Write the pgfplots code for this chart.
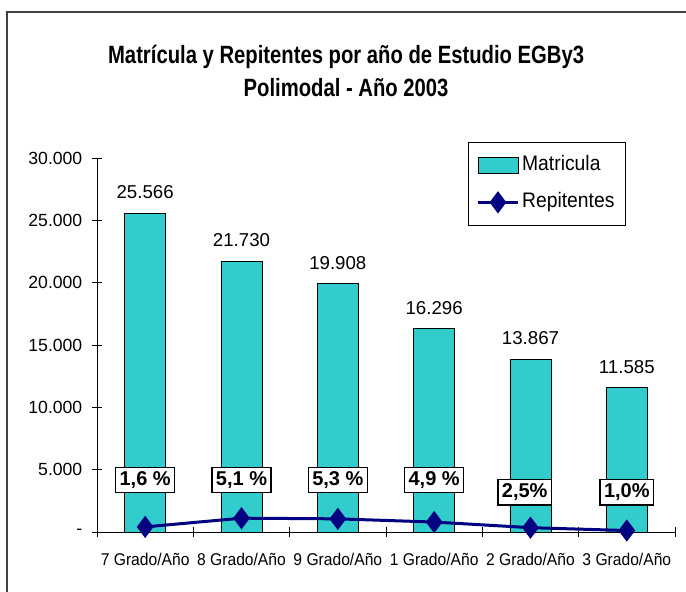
\documentclass[border=0pt]{standalone}
\usepackage{fontspec}
\setmainfont{Liberation Sans}
\newfontfamily\condfont{Liberation Sans}[FakeStretch=0.92]
\newfontfamily\titlefont{Liberation Sans}[FakeStretch=0.81]
\usepackage{pgfplots}
\pgfplotsset{compat=1.18}
\definecolor{barcol}{HTML}{33CCCC}
\definecolor{linecol}{HTML}{000080}
\begin{document}
\begin{tikzpicture}
\begin{axis}[
  at={(0,0)}, anchor=south west,
  scale only axis, width=433.5pt, height=280.5pt,
  xmin=-0.5, xmax=5.5, ymin=0, ymax=30000,
  scaled y ticks=false,
  axis x line=bottom, axis y line=left,
  axis line style={-, line width=0.6pt, black},
  xtick={-0.5,0.5,1.5,2.5,3.5,4.5,5.5},
  x tick label as interval,
  xticklabels={7 Grado/Año, 8 Grado/Año, 9 Grado/Año, 1 Grado/Año, 2 Grado/Año, 3 Grado/Año},
  ytick={0,5000,10000,15000,20000,25000,30000},
  yticklabels={{-\hspace{16pt}},5.000,10.000,15.000,20.000,25.000,30.000},
  tick align=center, major tick length=7pt,
  tick style={black, line width=0.6pt},
  xticklabel style={font=\condfont\fontsize{12.75}{14}\selectfont, yshift=-9pt},
  yticklabel style={font=\fontsize{13.2}{14}\selectfont, xshift=-4pt},
  title={Matrícula y Repitentes por año de Estudio EGBy3\\Polimodal - Año 2003},
  title style={at={(0.431,1.21)}, anchor=center, align=center,
    font=\titlefont\bfseries\fontsize{18.75}{24.75}\selectfont},
  legend style={at={(0.642,1.043)}, anchor=north west, draw=black, line width=0.6pt,
    font=\condfont\fontsize{15.75}{18}\selectfont, row sep=8.5pt,
    nodes={text height=11.5pt, text depth=3.5pt}, inner xsep=6pt, inner ysep=8pt},
  legend cell align=left,
  clip=false,
]
\addplot[ybar, bar width=30.75pt, fill=barcol, draw=black, line width=0.6pt,
  nodes near coords, point meta=explicit symbolic,
  every node near coord/.append style={font=\fontsize{14}{15}\selectfont, anchor=south, yshift=7pt},
  legend image code/.code={\draw[black, fill=barcol, line width=0.6pt] (0pt,-6pt) rectangle (30pt,6pt);}]
  coordinates {(0,25566)[25.566] (1,21730)[21.730] (2,19908)[19.908] (3,16296)[16.296] (4,13867)[13.867] (5,11585)[11.585]};
\addlegendentry{Matricula}
\addplot[linecol, line width=2.25pt, mark=diamond*, mark size=6.5pt, mark options={solid, fill=linecol},
  legend image code/.code={\draw[linecol, line width=2.25pt, mark=diamond*, mark size=6.5pt, mark options={solid, fill=linecol}, mark repeat=2, mark phase=2] plot coordinates {(0pt,0pt) (15pt,0pt) (30pt,0pt)};}]
  coordinates {(0,409) (1,1108) (2,1055) (3,798) (4,347) (5,116)};
\addlegendentry{Repitentes}
\addplot[draw=none, mark=none, forget plot, nodes near coords, point meta=explicit symbolic,
  every node near coord/.style={draw=black, fill=white, line width=1pt, anchor=center,
    font=\bfseries\fontsize{15}{15}\selectfont, text height=11pt, text depth=3pt, inner xsep=3pt, inner ysep=2.5pt}]
  coordinates {(0,4170)[1,6 \%] (1,4170)[5,1 \%] (2,4170)[5,3 \%] (3,4170)[4,9 \%] (3.94,3170)[2,5\%] (5,3170)[1,0\%]};
\end{axis}
\draw[line width=1.5pt, black!75] (-67.5pt,-100pt) |- (500pt,390pt);
\pgfresetboundingbox
\useasboundingbox (-72.75pt,-45pt) rectangle (441.75pt,399pt);
\end{tikzpicture}
\end{document}
